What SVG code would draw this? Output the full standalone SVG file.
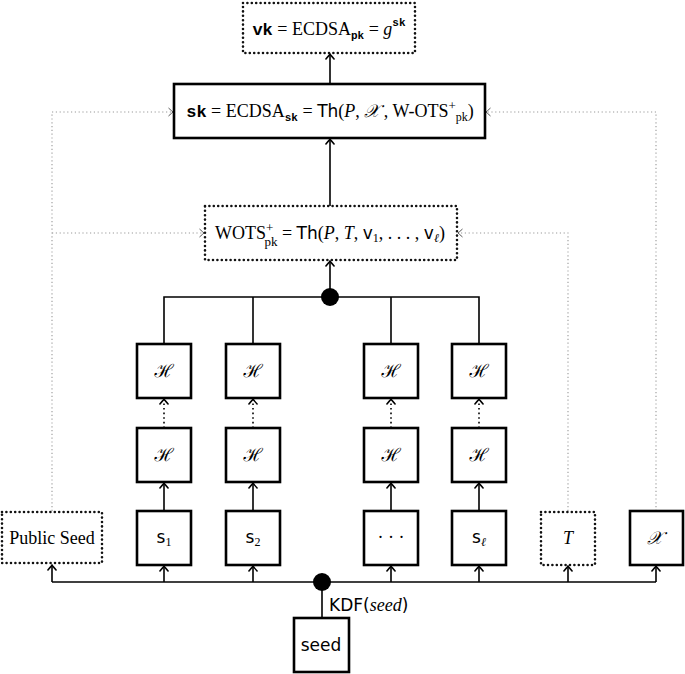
<svg xmlns="http://www.w3.org/2000/svg" width="685" height="674" viewBox="0 0 685 674">
<style>
.box{fill:#fff;stroke:#000;stroke-width:2.6}
.dbox{fill:#fff;stroke:#111;stroke-width:2.6;stroke-dasharray:0 4.4;stroke-linecap:round}
.ln{fill:none;stroke:#000;stroke-width:1.6}
.dl{fill:none;stroke:#000;stroke-width:1.6;stroke-dasharray:1.6 3}
.gl{fill:none;stroke:#999;stroke-width:1.1;stroke-dasharray:1.2 2.6}
.serif{font-family:"Liberation Serif","DejaVu Serif",serif}
.sans{font-family:"DejaVu Sans","Liberation Sans",sans-serif}
.mono{font-family:"Liberation Mono","DejaVu Sans Mono",monospace;font-weight:bold}
.it{font-style:italic}
.cal{font-family:"DejaVu Serif","Noto Sans",serif;font-style:italic}
</style>
<defs>
<marker id="a" markerUnits="userSpaceOnUse" markerWidth="12" markerHeight="12" viewBox="-8 -6 10 12" refX="0" refY="0" orient="auto" overflow="visible">
<path d="M-5.5,-4.5 Q-1.5,-1 0,0 Q-1.5,1 -5.5,4.5" fill="none" stroke="#000" stroke-width="1.4"/>
</marker>
<marker id="g" markerUnits="userSpaceOnUse" markerWidth="12" markerHeight="12" viewBox="-8 -6 10 12" refX="0" refY="0" orient="auto" overflow="visible">
<path d="M-4.5,-4 Q-1.2,-1 0,0 Q-1.2,1 -4.5,4" fill="none" stroke="#555" stroke-width="1"/>
</marker>
</defs>

<g id="connectors">
<line class="ln" x1="330" y1="84" x2="330" y2="54" marker-end="url(#a)"/>
<line class="ln" x1="330" y1="206" x2="330" y2="139" marker-end="url(#a)"/>
<line class="ln" x1="330" y1="297" x2="330" y2="261" marker-end="url(#a)"/>
<path class="ln" d="M164 344 V297 H479 V344"/>
<line class="ln" x1="253" y1="297" x2="253" y2="344"/>
<line class="ln" x1="391" y1="297" x2="391" y2="344"/>
<circle cx="330" cy="297" r="9" fill="#000"/>
<line class="dl" x1="164" y1="428" x2="164" y2="399" marker-end="url(#a)"/>
<line class="dl" x1="253" y1="428" x2="253" y2="399" marker-end="url(#a)"/>
<line class="dl" x1="391" y1="428" x2="391" y2="399" marker-end="url(#a)"/>
<line class="dl" x1="479" y1="428" x2="479" y2="399" marker-end="url(#a)"/>
<line class="ln" x1="164" y1="511" x2="164" y2="483" marker-end="url(#a)"/>
<line class="ln" x1="253" y1="511" x2="253" y2="483" marker-end="url(#a)"/>
<line class="ln" x1="391" y1="511" x2="391" y2="483" marker-end="url(#a)"/>
<line class="ln" x1="479" y1="511" x2="479" y2="483" marker-end="url(#a)"/>
<line class="ln" x1="52" y1="582" x2="656" y2="582"/>
<line class="ln" x1="52" y1="582" x2="52" y2="565" marker-end="url(#a)"/>
<line class="ln" x1="164" y1="582" x2="164" y2="566" marker-end="url(#a)"/>
<line class="ln" x1="253" y1="582" x2="253" y2="566" marker-end="url(#a)"/>
<line class="ln" x1="391" y1="582" x2="391" y2="566" marker-end="url(#a)"/>
<line class="ln" x1="479" y1="582" x2="479" y2="566" marker-end="url(#a)"/>
<line class="ln" x1="568" y1="582" x2="568" y2="566" marker-end="url(#a)"/>
<line class="ln" x1="656" y1="582" x2="656" y2="566" marker-end="url(#a)"/>
<line class="ln" x1="322" y1="582" x2="322" y2="618"/>
<circle cx="322" cy="582" r="9" fill="#000"/>
<text x="329" y="611" class="sans" font-size="17">KDF(<tspan class="serif it" font-size="18">seed</tspan>)</text>
<path class="gl" d="M52 511 V112 H173" marker-end="url(#g)"/>
<path class="gl" d="M52 233 H204" marker-end="url(#g)"/>
<path class="gl" d="M568 511 V233 H458" marker-end="url(#g)"/>
<path class="gl" d="M656 511 V112 H486" marker-end="url(#g)"/>
</g>

<g id="vk">
<rect class="dbox" x="243" y="3" width="172" height="50"/>
<text x="329" y="35" text-anchor="middle" class="serif" font-size="18"><tspan class="mono" font-size="17">vk</tspan> = ECDSA<tspan class="mono" font-size="11" dy="4">pk</tspan><tspan dy="-4"> = </tspan><tspan class="it">g</tspan><tspan class="mono" font-size="11" dy="-9">sk</tspan></text>
</g>

<g id="sk">
<rect class="box" x="174" y="84" width="311" height="54"/>
<text x="330" y="117" text-anchor="middle" class="serif" font-size="18"><tspan class="mono" font-size="17">sk</tspan> = ECDSA<tspan class="mono" font-size="11" dy="4">sk</tspan><tspan dy="-4"> = </tspan><tspan class="sans" font-size="17">Th</tspan>(<tspan class="it">P</tspan>, <tspan class="cal">𝒳</tspan> , W-OTS<tspan font-size="13" dy="-7">+</tspan><tspan font-size="12" dy="11">pk</tspan><tspan dy="-4">)</tspan></text>
</g>

<g id="wots">
<rect class="dbox" x="205" y="206" width="252" height="54"/>
<text x="330" y="239" text-anchor="middle" class="serif" font-size="18">WOTS<tspan font-size="13" dy="-7">+</tspan><tspan font-size="13" dx="-9" dy="14">pk</tspan><tspan dy="-7"> = </tspan><tspan class="sans" font-size="17">Th</tspan>(<tspan class="it">P</tspan>, <tspan class="it">T</tspan>, <tspan class="sans" font-size="17">v</tspan><tspan font-size="12" dy="3">1</tspan><tspan dy="-3">, . . . , </tspan><tspan class="sans" font-size="17">v</tspan><tspan font-size="12" class="it" dy="3">ℓ</tspan><tspan dy="-3">)</tspan></text>
</g>

<g id="h1t"><rect class="box" x="137" y="344" width="54" height="54"/><text x="164" y="377" text-anchor="middle" class="cal" font-size="18">ℋ</text></g>
<g id="h2t"><rect class="box" x="226" y="344" width="54" height="54"/><text x="253" y="377" text-anchor="middle" class="cal" font-size="18">ℋ</text></g>
<g id="h3t"><rect class="box" x="364" y="344" width="54" height="54"/><text x="391" y="377" text-anchor="middle" class="cal" font-size="18">ℋ</text></g>
<g id="h4t"><rect class="box" x="452" y="344" width="54" height="54"/><text x="479" y="377" text-anchor="middle" class="cal" font-size="18">ℋ</text></g>
<g id="h1b"><rect class="box" x="137" y="428" width="54" height="54"/><text x="164" y="461" text-anchor="middle" class="cal" font-size="18">ℋ</text></g>
<g id="h2b"><rect class="box" x="226" y="428" width="54" height="54"/><text x="253" y="461" text-anchor="middle" class="cal" font-size="18">ℋ</text></g>
<g id="h3b"><rect class="box" x="364" y="428" width="54" height="54"/><text x="391" y="461" text-anchor="middle" class="cal" font-size="18">ℋ</text></g>
<g id="h4b"><rect class="box" x="452" y="428" width="54" height="54"/><text x="479" y="461" text-anchor="middle" class="cal" font-size="18">ℋ</text></g>

<g id="s1"><rect class="box" x="137" y="511" width="54" height="54"/><text x="164" y="543" text-anchor="middle" class="sans" font-size="17">s<tspan font-size="12" class="serif" dy="3">1</tspan></text></g>
<g id="s2"><rect class="box" x="226" y="511" width="54" height="54"/><text x="253" y="543" text-anchor="middle" class="sans" font-size="17">s<tspan font-size="12" class="serif" dy="3">2</tspan></text></g>
<g id="sdots"><rect class="box" x="364" y="511" width="54" height="54"/><text x="391" y="543" text-anchor="middle" class="serif" font-size="18">· · ·</text></g>
<g id="sl"><rect class="box" x="452" y="511" width="54" height="54"/><text x="479" y="543" text-anchor="middle" class="sans" font-size="17">s<tspan font-size="12" class="serif it" dy="3">ℓ</tspan></text></g>

<g id="pubseed"><rect class="dbox" x="2" y="512" width="100" height="51"/><text x="52" y="544" text-anchor="middle" class="serif" font-size="18">Public Seed</text></g>
<g id="T"><rect class="dbox" x="541" y="512" width="54" height="53"/><text x="568" y="544" text-anchor="middle" class="serif it" font-size="18">T</text></g>
<g id="X"><rect class="box" x="630" y="511" width="53" height="54"/><text x="654" y="544" text-anchor="middle" class="cal" font-size="18">𝒳</text></g>
<g id="seed"><rect class="box" x="294" y="618" width="55" height="54"/><text x="321" y="651" text-anchor="middle" class="sans" font-size="17">seed</text></g>
</svg>
